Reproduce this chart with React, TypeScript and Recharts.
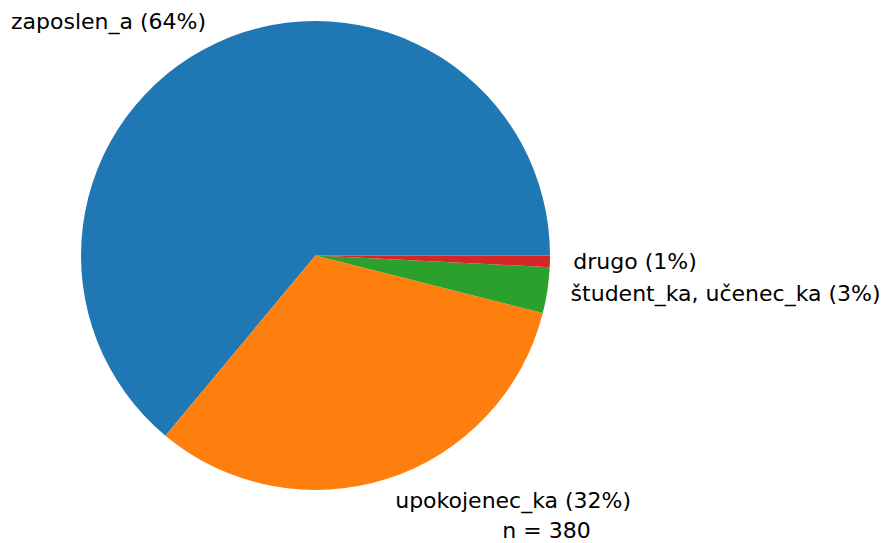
import React from 'react';
import { PieChart, Pie, Cell } from 'recharts';

const categories = ['zaposlen_a', 'upokojenec_ka', 'študent_ka, učenec_ka', 'drugo'];
const counts = [243, 122, 12, 3];
const colors = ['#1f77b4', '#ff7f0e', '#2ca02c', '#d62728'];
const footnote = 'n = 380';

const total = counts.reduce((a, b) => a + b, 0);
const data = categories.map((name, i) => ({ name, value: counts[i] }));

const RAD = Math.PI / 180;
const FONT = 'DejaVu Sans';
const FS = 22;

const renderLabel = (props: any) => {
  const { cx, cy, midAngle, outerRadius, index } = props;
  const r = outerRadius * 1.1;
  const x = cx + r * Math.cos(-midAngle * RAD);
  const y = cy + r * Math.sin(-midAngle * RAD);
  const pct = Math.round((counts[index] / total) * 100);
  return (
    <text
      x={x}
      y={y}
      textAnchor={x < cx ? 'end' : 'start'}
      dominantBaseline="central"
      fontFamily={FONT}
      fontSize={FS}
      fill="#000"
    >
      {`${categories[index]} (${pct}%)`}
    </text>
  );
};

export default function App() {
  return (
    <div style={{ position: 'absolute', left: 0, top: 0, width: 881, height: 543, background: '#fff' }}>
      <PieChart width={881} height={543} margin={{ top: 0, right: 0, bottom: 0, left: 0 }}>
        <Pie
          data={data}
          dataKey="value"
          cx={315.5}
          cy={255.5}
          outerRadius={234.5}
          startAngle={0}
          endAngle={360}
          label={renderLabel}
          labelLine={false}
          isAnimationActive={false}
          stroke="none"
        >
          {data.map((d, i) => (
            <Cell key={d.name} fill={colors[i]} stroke="none" />
          ))}
        </Pie>
        <text x={546.5} y={530} textAnchor="middle" dominantBaseline="central" fontFamily={FONT} fontSize={FS} fill="#000">
          {footnote}
        </text>
      </PieChart>
    </div>
  );
}
